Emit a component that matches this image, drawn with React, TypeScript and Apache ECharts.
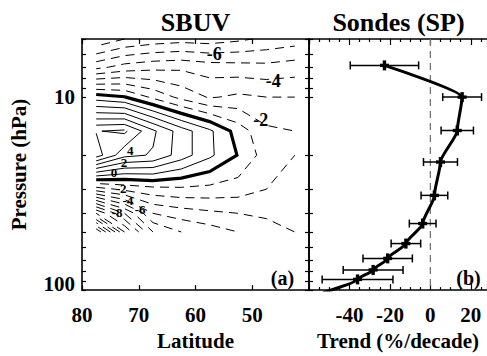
import React, { useEffect, useRef } from 'react';
import * as echarts from 'echarts';

// ---------- SBUV panel (a): trend field, rows = pressure levels, columns = latitudes ----------
const LATITUDES = [77.5, 72.5, 67.5, 62.5, 57.5, 52.5, 47.5, 42.5];
const SBUV_PRESSURES = [5, 7, 10, 15, 20, 30, 40, 50];
const SBUV_TRENDS = [
  [-8.9, -8.0, -7.6, -7.4, -7.5, -7.2, -6.8, -6.5],
  [-5.3, -4.6, -4.3, -4.2, -4.5, -4.6, -4.7, -4.5],
  [0.5, 0.05, -1.2, -2.3, -3.1, -2.8, -3.0, -3.0],
  [5.95, 6.2, 4.2, 2.5, 1.2, -0.44, -1.8, -2.0],
  [6.5, 4.3, 3.9, 2.5, 1.2, -0.05, -1.5, -2.0],
  [-2.5, -1.75, -1.33, -1.2, -1.3, -1.5, -2.0, -2.2],
  [-10, -7, -4, -3.5, -3.2, -3, -2.8, -2.6],
  [-16, -10, -6, -5, -4.5, -4, -3.5, -3],
];
const CONTOUR_LEVELS = [-16, -15, -14, -13, -12, -11, -10, -9, -8, -7, -6, -5, -4, -3, -2, -1, 0, 1, 2, 3, 4, 5, 6, 7];
const LABEL_TEXTS = ['-6', '-4', '-2', '4', '2', '0', '-2', '-4', '-6', '-8'];
const LABEL_LATS = [56.7, 46.3, 48.5, 71.5, 72.6, 74.35, 73.1, 71.9, 69.75, 73.8];
const LABEL_PRESSURES = [5.98, 8.23, 13.1, 18.8, 21.8, 24.7, 29.6, 34.4, 38.45, 39.8];
const LABEL_SIZES = [18, 18, 18, 13, 13, 13, 13, 13, 13, 13];

// ---------- Sondes panel (b) ----------
const SONDE_PRESSURES = [6.85, 10, 14.9, 21.7, 32.3, 45.2, 57.4, 68.5, 78.6, 88];
const SONDE_TRENDS = [-22.7, 15.7, 13.3, 5.0, 2.0, -3.8, -12.1, -21.1, -28.3, -36.0];
const SONDE_ERRORS = [16.9, 9.6, 8.0, 8.4, 6.6, 6.6, 7.3, 12.2, 14.8, 17.5];
const PROFILE_TAIL_TREND = -53;
const PROFILE_TAIL_PRESSURE = 103;

// ---------- axes ----------
const P_MIN = 5;
const P_MAX = 100;
const P_TICKS = [5, 6, 7, 8, 9, 10, 20, 30, 40, 50, 60, 70, 80, 90, 100];
const P_LABELS = [10, 100];
const LAT_MIN = 40;
const LAT_MAX = 80;
const TREND_MIN = -60;
const TREND_MAX = 28;

const FONT = "'Liberation Serif', 'Times New Roman', serif";
const lg = (v: number) => Math.log10(v);

type Line = { level: number; pts: number[][] };

function buildContours(): Line[] {
  const ly = SBUV_PRESSURES.map(lg);
  const nx = LATITUDES.length;
  const ny = ly.length;
  const g = SBUV_TRENDS;
  const out: Line[] = [];
  for (const L of CONTOUR_LEVELS) {
    const pts = new Map<string, number[]>();
    const adj = new Map<string, string[]>();
    const link = (a: string, b: string) => {
      if (!adj.has(a)) adj.set(a, []);
      if (!adj.has(b)) adj.set(b, []);
      adj.get(a)!.push(b);
      adj.get(b)!.push(a);
    };
    const cross = (key: string, x1: number, y1: number, v1: number, x2: number, y2: number, v2: number) => {
      const t = (L - v1) / (v2 - v1);
      pts.set(key, [x1 + t * (x2 - x1), y1 + t * (y2 - y1)]);
      return key;
    };
    for (let j = 0; j < ny - 1; j++) {
      for (let i = 0; i < nx - 1; i++) {
        const a = g[j][i], b = g[j][i + 1], c = g[j + 1][i + 1], d = g[j + 1][i];
        const A = a >= L, B = b >= L, C = c >= L, D = d >= L;
        const e: (string | null)[] = [null, null, null, null];
        if (A !== B) e[0] = cross(`h${i},${j}`, LATITUDES[i], ly[j], a, LATITUDES[i + 1], ly[j], b);
        if (B !== C) e[1] = cross(`v${i + 1},${j}`, LATITUDES[i + 1], ly[j], b, LATITUDES[i + 1], ly[j + 1], c);
        if (D !== C) e[2] = cross(`h${i},${j + 1}`, LATITUDES[i], ly[j + 1], d, LATITUDES[i + 1], ly[j + 1], c);
        if (A !== D) e[3] = cross(`v${i},${j}`, LATITUDES[i], ly[j], a, LATITUDES[i], ly[j + 1], d);
        const present = e.filter((k) => k !== null) as string[];
        if (present.length === 2) link(present[0], present[1]);
        else if (present.length === 4) {
          const center = (a + b + c + d) / 4 >= L;
          if (center === A) {
            link(e[0]!, e[1]!);
            link(e[2]!, e[3]!);
          } else {
            link(e[3]!, e[0]!);
            link(e[1]!, e[2]!);
          }
        }
      }
    }
    const seen = new Set<string>();
    const walk = (start: string) => {
      const chain: number[][] = [];
      let cur: string | undefined = start;
      let prev: string | undefined;
      while (cur && !seen.has(cur)) {
        seen.add(cur);
        chain.push(pts.get(cur)!);
        const nb: string[] = adj.get(cur) || [];
        const next = nb.find((n) => n !== prev && !seen.has(n));
        prev = cur;
        cur = next;
      }
      if (chain.length > 1) out.push({ level: L, pts: chain });
    };
    for (const [k, nb] of adj) if (nb.length === 1 && !seen.has(k)) walk(k);
    for (const k of adj.keys()) if (!seen.has(k)) walk(k);
  }
  return out;
}

export default function App() {
  const ref = useRef<HTMLDivElement>(null);
  useEffect(() => {
    if (!ref.current) return;
    const chart = echarts.init(ref.current, null, { renderer: 'svg' });
    const contours = buildContours();

    const tickStyle = { inside: true, length: 4, lineStyle: { color: '#000', width: 1.2 } };
    const axisLine = { show: true, onZero: false, lineStyle: { color: '#000', width: 1.6 } };
    const labelFont = { color: '#000', fontFamily: FONT, fontWeight: 'bold' as const, fontSize: 21 };
    const pTickValues = P_TICKS.map(lg);

    const yBase = (grid: number, pos: 'left' | 'right', labels: boolean) => ({
      type: 'value',
      gridIndex: grid,
      position: pos,
      min: lg(P_MIN),
      max: lg(P_MAX),
      inverse: true,
      axisLine,
      splitLine: { show: false },
      axisTick: { ...tickStyle, customValues: pTickValues },
      axisLabel: labels
        ? {
            show: true,
            customValues: P_LABELS.map(lg),
            margin: 7,
            ...labelFont,
            formatter: (v: number) => {
              const n = Math.round(Math.pow(10, v));
              return n === 100 ? `{up|${n}}` : `${n}`;
            },
            rich: { up: { ...labelFont, padding: [0, 0, 13, 0] } },
          }
        : { show: false },
      name: labels ? 'Pressure (hPa)' : '',
      nameLocation: 'middle',
      nameGap: 53,
      nameTextStyle: { ...labelFont },
    });

    const option: any = {
      animation: false,
      backgroundColor: '#fff',
      grid: [
        { left: 82, top: 39, width: 227, height: 259 },
        { left: 309, top: 39, right: 0, height: 259 },
      ],
      xAxis: [
        {
          type: 'value', gridIndex: 0, position: 'bottom', min: LAT_MIN, max: LAT_MAX, interval: 10, inverse: true,
          axisLine, splitLine: { show: false }, axisTick: { ...tickStyle, length: 5 },
          axisLabel: { ...labelFont, margin: 14, showMinLabel: false },
          name: 'Latitude', nameLocation: 'middle', nameGap: 32, nameTextStyle: { ...labelFont },
        },
        {
          type: 'value', gridIndex: 0, position: 'top', min: LAT_MIN, max: LAT_MAX, interval: 10, inverse: true,
          axisLine, splitLine: { show: false }, axisTick: { ...tickStyle, length: 5 }, axisLabel: { show: false },
        },
        {
          type: 'value', gridIndex: 1, position: 'bottom', min: TREND_MIN, max: TREND_MAX, interval: 20,
          axisLine, splitLine: { show: false }, axisTick: { ...tickStyle, length: 6 },
          minorTick: { show: true, splitNumber: 4, length: 3, lineStyle: { color: '#000', width: 1.2 } },
          axisLabel: { ...labelFont, margin: 14, showMinLabel: false, showMaxLabel: false },
          name: 'Trend (%/decade)', nameLocation: 'middle', nameGap: 32, nameTextStyle: { ...labelFont },
        },
        {
          type: 'value', gridIndex: 1, position: 'top', min: TREND_MIN, max: TREND_MAX, interval: 20,
          axisLine, splitLine: { show: false }, axisTick: { ...tickStyle, length: 6 },
          minorTick: { show: true, splitNumber: 4, length: 3, lineStyle: { color: '#000', width: 1.2 } },
          axisLabel: { show: false },
        },
      ],
      yAxis: [yBase(0, 'left', true), yBase(0, 'right', false), yBase(1, 'left', false)],
      graphic: [
        { type: 'text', x: 195.5, y: 22, style: { text: 'SBUV', fontSize: 26, fontWeight: 'bold', fontFamily: FONT, fill: '#000', textAlign: 'center', textVerticalAlign: 'middle' } },
        { type: 'text', x: 398.5, y: 22, style: { text: 'Sondes (SP)', fontSize: 26, fontWeight: 'bold', fontFamily: FONT, fill: '#000', textAlign: 'center', textVerticalAlign: 'middle' } },
        { type: 'text', x: 282.5, y: 278, style: { text: '(a)', fontSize: 20, fontWeight: 'bold', fontFamily: FONT, fill: '#000', textAlign: 'center', textVerticalAlign: 'middle' } },
        { type: 'text', x: 468.5, y: 278, style: { text: '(b)', fontSize: 20, fontWeight: 'bold', fontFamily: FONT, fill: '#000', textAlign: 'center', textVerticalAlign: 'middle' } },
      ],
      series: [
        {
          type: 'custom',
          name: 'contours',
          coordinateSystem: 'cartesian2d',
          xAxisIndex: 0,
          yAxisIndex: 0,
          encode: { x: 0, y: 1 },
          data: contours.map((c) => [c.pts[0][0], c.pts[0][1], c.level]),
          renderItem: (params: any, api: any) => {
            const c = contours[params.dataIndex];
            const points = c.pts.map((p) => api.coord(p));
            return {
              type: 'polyline',
              shape: { points },
              style: {
                stroke: '#000',
                fill: null,
                lineWidth: c.level === 0 ? 3.2 : 1,
                lineDash: c.level < 0 ? [9, 6] : null,
              },
            };
          },
          z: 2,
        },
        {
          type: 'custom',
          name: 'contour labels',
          coordinateSystem: 'cartesian2d',
          xAxisIndex: 0,
          yAxisIndex: 0,
          encode: { x: 0, y: 1 },
          data: LABEL_TEXTS.map((t, i) => [LABEL_LATS[i], lg(LABEL_PRESSURES[i])]),
          renderItem: (params: any, api: any) => {
            const p = api.coord([api.value(0), api.value(1)]);
            const size = LABEL_SIZES[params.dataIndex];
            return {
              type: 'text',
              x: p[0],
              y: p[1],
              style: { text: LABEL_TEXTS[params.dataIndex], fontSize: size, fontWeight: 'bold', fontFamily: FONT, fill: '#000', align: 'center', verticalAlign: 'middle', lineHeight: size * 0.8 },
            };
          },
          z: 3,
        },
        {
          type: 'line',
          name: 'zero',
          xAxisIndex: 2,
          yAxisIndex: 2,
          data: [[0, lg(P_MIN)], [0, lg(P_MAX)]],
          showSymbol: false,
          lineStyle: { color: '#777', width: 1.3, type: [7, 5] },
          z: 1,
        },
        {
          type: 'line',
          name: 'profile',
          xAxisIndex: 2,
          yAxisIndex: 2,
          data: [
            ...SONDE_TRENDS.map((t, i) => [t, lg(SONDE_PRESSURES[i])]),
            [PROFILE_TAIL_TREND, lg(PROFILE_TAIL_PRESSURE)],
          ],
          smooth: 0.2,
          smoothMonotone: 'y',
          showSymbol: false,
          clip: true,
          lineStyle: { color: '#000', width: 3 },
          z: 2,
        },
        {
          type: 'custom',
          name: 'error bars',
          coordinateSystem: 'cartesian2d',
          xAxisIndex: 2,
          yAxisIndex: 2,
          encode: { x: 0, y: 1 },
          data: SONDE_TRENDS.map((t, i) => [t, lg(SONDE_PRESSURES[i]), SONDE_ERRORS[i]]),
          renderItem: (params: any, api: any) => {
            const t = api.value(0), y = api.value(1), e = api.value(2);
            const c = api.coord([t, y]);
            const lo = api.coord([t - e, y]);
            const hi = api.coord([t + e, y]);
            const s = { stroke: '#000', lineWidth: 1.5 };
            const m = { stroke: '#000', lineWidth: 3.4 };
            return {
              type: 'group',
              children: [
                { type: 'line', shape: { x1: lo[0], y1: c[1], x2: hi[0], y2: c[1] }, style: s },
                { type: 'line', shape: { x1: lo[0], y1: c[1] - 4, x2: lo[0], y2: c[1] + 4 }, style: s },
                { type: 'line', shape: { x1: hi[0], y1: c[1] - 4, x2: hi[0], y2: c[1] + 4 }, style: s },
                { type: 'line', shape: { x1: c[0] - 4.5, y1: c[1], x2: c[0] + 4.5, y2: c[1] }, style: m },
                { type: 'line', shape: { x1: c[0], y1: c[1] - 5, x2: c[0], y2: c[1] + 5 }, style: m },
              ],
            };
          },
          z: 3,
        },
      ],
    };
    chart.setOption(option);
    return () => chart.dispose();
  }, []);
  return <div ref={ref} style={{ position: 'absolute', left: 0, top: 0, width: 487, height: 356, background: '#fff' }} />;
}
